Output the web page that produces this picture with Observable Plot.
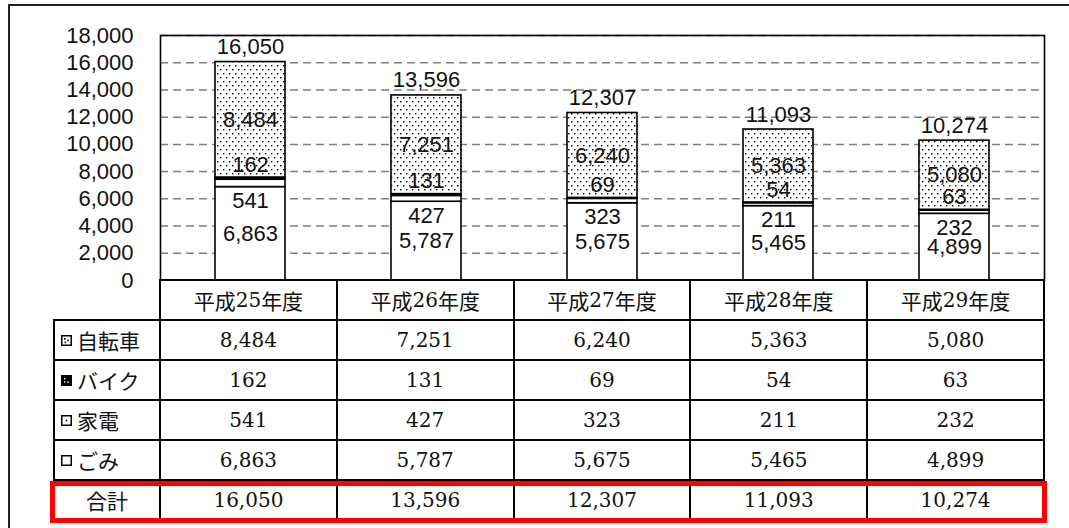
<!DOCTYPE html>
<html>
<head>
<meta charset="utf-8">
<script src="https://cdn.jsdelivr.net/npm/d3@7"></script>
<script src="https://cdn.jsdelivr.net/npm/@observablehq/plot@0.6"></script>
<style>
  html, body { margin: 0; padding: 0; background: #fff; overflow: hidden; }
  #wrap { position: relative; width: 1069px; height: 528px; overflow: hidden; }
  #outer { position: absolute; left: 8px; top: 4px; width: 1200px; height: 700px; border: 2px solid #222; box-sizing: border-box; }
  #chart { position: absolute; left: 0; top: 0; }
  .cell { position: absolute; box-sizing: border-box; border: 2px solid #000; display: flex; align-items: center; justify-content: center;
          font-family: "DejaVu Serif", "Liberation Serif", "Noto Sans CJK JP", serif; font-size: 20px; color: #111; background: #fff; }
  .cell.lab { justify-content: flex-start; padding-left: 6px; }
  .cell.lab.center { justify-content: center; padding-left: 0; }
  .cell .cjk { font-family: "Noto Sans CJK JP", sans-serif; font-size: 21px; }
  .cell svg { margin-right: 5px; }
  #redbox { position: absolute; left: 50px; top: 481px; width: 997px; height: 42px; border: 5px solid #ff0000; box-sizing: border-box; }
</style>
</head>
<body>
<div id="wrap">
  <div id="outer"></div>
  <div id="chart"></div>
  <div id="table"></div>
  <div id="redbox"></div>
</div>
<script>
// ---- data ----
const years = ["平成25年度", "平成26年度", "平成27年度", "平成28年度", "平成29年度"];
const series = ["ごみ", "家電", "バイク", "自転車"];
const gomi = [6863, 5787, 5675, 5465, 4899];
const kaden = [541, 427, 323, 211, 232];
const bike = [162, 131, 69, 54, 63];
const jitensha = [8484, 7251, 6240, 5363, 5080];
const totals = [16050, 13596, 12307, 11093, 10274];
const yTicks = [0, 2000, 4000, 6000, 8000, 10000, 12000, 14000, 16000, 18000];

const values = {"ごみ": gomi, "家電": kaden, "バイク": bike, "自転車": jitensha};
const rows = [];
years.forEach((yr, i) => series.forEach(s => rows.push({year: yr, series: s, value: values[s][i]})));

const fmt = d3.format(",");

// label anchor values derived from the data
const lab = years.map((yr, i) => {
  const g = gomi[i], k = kaden[i], b = bike[i], j = jitensha[i];
  return {year: yr, gMid: g / 2, gTop: g, bTop: g + k + b, jMid: g + k + b + j / 2, total: totals[i],
          gT: fmt(g), kT: fmt(k), bT: fmt(b), jT: fmt(j), tT: fmt(totals[i])};
});

const W = 1069, ML = 160, MR = 25, MT = 35, H = 282;
const tx = {fontSize: 22, fill: "#111"};

const chart = Plot.plot({
  width: W,
  height: H,
  marginLeft: ML,
  marginRight: MR,
  marginTop: MT,
  marginBottom: H - 280,
  style: {fontFamily: "'Liberation Sans', Arial, sans-serif", fontSize: "22px", background: "transparent", overflow: "visible"},
  x: {domain: years, paddingInner: 0.6, paddingOuter: 0.3, axis: null},
  y: {domain: [0, 18000], axis: null},
  color: {type: "ordinal", domain: series, range: ["white", "white", "black", "url(#dots)"]},
  marks: [
    Plot.ruleY(yTicks, {stroke: "#7f7f7f", strokeWidth: 1.5, strokeDasharray: "8,5"}),
    Plot.axisY({ticks: yTicks, tickFormat: d3.format(","), tickSize: 0, tickPadding: 27, fontSize: 22, label: null, fill: "#111"}),
    Plot.barY(rows, {x: "year", y: "value", fill: "series", z: "series", stroke: "#000", strokeWidth: 1.6}),
    Plot.frame({stroke: "#000", strokeWidth: 1.6}),
    Plot.ruleY([0], {stroke: "#000", strokeWidth: 2.5}),
    Plot.text(lab, {x: "year", y: "gMid", text: "gT", ...tx}),
    Plot.text(lab, {x: "year", y: "gTop", text: "kT", dy: 14, ...tx}),
    Plot.text(lab, {x: "year", y: "bTop", text: "bT", dy: -13, ...tx}),
    Plot.text(lab, {x: "year", y: "jMid", text: "jT", ...tx}),
    Plot.text(lab, {x: "year", y: "total", text: "tT", dy: -15, ...tx})
  ]
});
document.getElementById("chart").appendChild(chart);

// pattern defs
d3.select(chart).insert("defs", ":first-child").html(
  `<pattern id="dots" width="6" height="8" patternUnits="userSpaceOnUse">
     <rect width="6" height="8" fill="#fff"/>
     <rect x="1" y="1" width="1.4" height="1.4" fill="#000"/>
     <rect x="4" y="5" width="1.4" height="1.4" fill="#000"/>
   </pattern>`
);

// ---- table ----
const colX = [54, ML];
for (let i = 1; i <= years.length; i++) colX.push(ML + i * (W - ML - MR) / years.length);
const rowY = [280, 320, 360, 400, 440, 480, 520];

const tbl = d3.select("#table");
function cell(x0, x1, y0, y1, cls) {
  return tbl.append("div").attr("class", "cell " + (cls || ""))
    .style("left", (x0 - 1) + "px").style("top", (y0 - 1) + "px")
    .style("width", (x1 - x0 + 2) + "px").style("height", (y1 - y0 + 2) + "px");
}
function mixed(sel, str) {
  const parts = str.match(/[0-9,]+|[^0-9,]+/g);
  parts.forEach(p => {
    if (/[0-9,]/.test(p[0])) sel.append("span").text(p);
    else sel.append("span").attr("class", "cjk").text(p);
  });
}
years.forEach((yr, i) => mixed(cell(colX[i + 1], colX[i + 2], rowY[0], rowY[1]), yr));

const tableRows = [
  {name: "自転車", key: "jitensha", vals: jitensha},
  {name: "バイク", key: "bike", vals: bike},
  {name: "家電", key: "kaden", vals: kaden},
  {name: "ごみ", key: "gomi", vals: gomi},
  {name: "合計", key: "total", vals: totals}
];
const markers = {
  jitensha: `<rect x="0.75" y="0.75" width="9.5" height="9.5" fill="#fff" stroke="#000" stroke-width="1.5"/><rect x="3" y="3" width="1.6" height="1.6"/><rect x="6.3" y="4.6" width="1.6" height="1.6"/><rect x="3.6" y="6.6" width="1.6" height="1.6"/>`,
  bike: `<rect x="0.75" y="0.75" width="9.5" height="9.5" fill="#000" stroke="#000" stroke-width="1.5"/><rect x="3" y="3" width="1.4" height="1.4" fill="#fff"/><rect x="6.3" y="6.3" width="1.4" height="1.4" fill="#fff"/><rect x="3" y="6.3" width="1.4" height="1.4" fill="#fff"/>`,
  kaden: `<rect x="0.75" y="0.75" width="9.5" height="9.5" fill="#fff" stroke="#000" stroke-width="1.5"/><rect x="4.7" y="4.7" width="1.6" height="1.6"/>`,
  gomi: `<rect x="0.75" y="0.75" width="9.5" height="9.5" fill="#fff" stroke="#000" stroke-width="1.5"/>`
};
tableRows.forEach((r, ri) => {
  const y0 = rowY[ri + 1], y1 = rowY[ri + 2];
  const lc = cell(colX[0], colX[1], y0, y1, r.key === "total" ? "lab center" : "lab");
  if (markers[r.key]) lc.append("svg").attr("width", 11).attr("height", 11).html(markers[r.key]);
  lc.append("span").attr("class", "cjk").text(r.name);
  r.vals.forEach((v, i) => cell(colX[i + 1], colX[i + 2], y0, y1).append("span").text(fmt(v)));
});
</script>
</body>
</html>
